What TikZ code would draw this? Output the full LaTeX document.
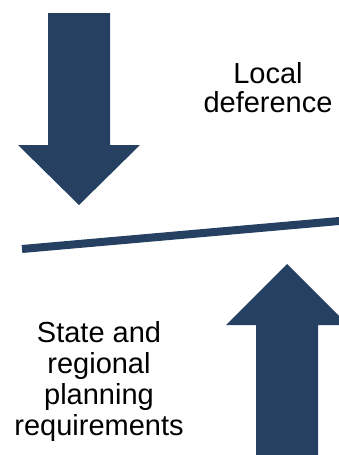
\documentclass[tikz,border=0pt]{standalone}
\usepackage{fontspec}
\setmainfont{Liberation Sans}
\definecolor{navy}{RGB}{38,64,97}
\begin{document}
\begin{tikzpicture}[x=1pt,y=-1pt,
  bigarrow/.style={fill=navy,draw=none},
  label/.style={align=center,inner sep=0pt,text=black}]
\useasboundingbox (0,0) rectangle (339,455);
\clip (0,0) rectangle (339,455);
% downward arrow (top left)
\fill[bigarrow] (48,13) -- (110,13) -- (110,145) -- (140,145) -- (79,205)
  -- (18,145) -- (48,145) -- cycle;
% upward arrow (bottom right)
\fill[bigarrow] (287,264) -- (348,325) -- (318,325) -- (318,470) -- (256,470)
  -- (256,325) -- (226,325) -- cycle;
% tilted balance bar
\coordinate (barL) at (22,249);
\coordinate (barR) at (345,220.5);
\draw[navy,line width=8pt] (barL) -- (barR);
% labels (anchored on the baseline of their last line)
\node[label,font=\fontsize{29}{29.5}\selectfont,anchor=base] (local) at (268,112.5) {Local\\deference};
\node[label,font=\fontsize{29}{30.7}\selectfont,anchor=base] (state) at (99,435) {State and\\regional\\planning\\requirements};
\end{tikzpicture}
\end{document}
